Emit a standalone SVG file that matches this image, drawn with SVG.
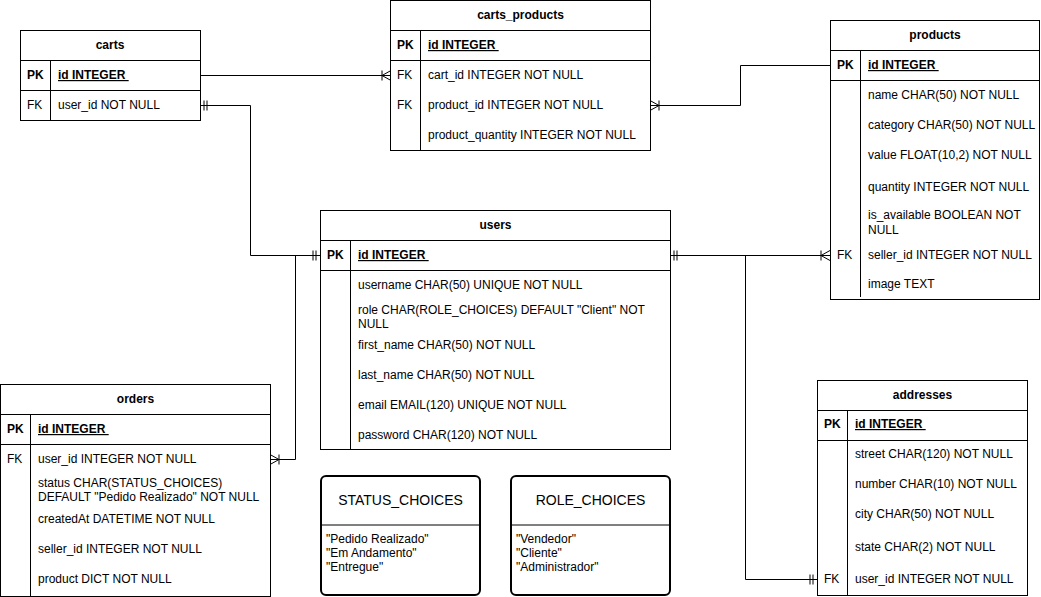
<svg xmlns="http://www.w3.org/2000/svg" width="1041" height="597" viewBox="0 0 1041 597">
<style>
text{font-family:"Liberation Sans",Arial,Helvetica,sans-serif;font-size:12px;fill:#000}
.t{font-weight:bold;text-anchor:middle}
.b{font-weight:bold}
.u{font-weight:bold;text-decoration:underline}
.box{fill:#fff;stroke:#000;stroke-width:1}
.ln{stroke:#000;stroke-width:1;fill:none}
.en{fill:#fff;stroke:#000;stroke-width:2}
.et{font-size:14px;text-anchor:middle}
.c{fill:none;stroke:#000;stroke-width:1}
</style>
<defs>
<marker id="one" markerUnits="userSpaceOnUse" viewBox="-12 -6 14 12" refX="0" refY="0" markerWidth="14" markerHeight="12" orient="auto-start-reverse">
<path d="M-7,-5V5M-4,-5V5" stroke="#000" stroke-width="1" fill="none"/>
</marker>
<marker id="many" markerUnits="userSpaceOnUse" viewBox="-12 -6 14 12" refX="0" refY="0" markerWidth="14" markerHeight="12" orient="auto-start-reverse">
<path d="M0,-5L-9,0L0,5M-9,-5V5" stroke="#000" stroke-width="1" fill="none"/>
</marker>
</defs>
<rect width="1041" height="597" fill="#fff"/>

<g id="connectors">
<path class="c" d="M200,75.5H391" marker-end="url(#many)"/>
<path class="c" d="M200,105.5H250.5V255.5H320" marker-start="url(#one)" marker-end="url(#one)"/>
<path class="c" d="M270,459.5H295.5V255.5H320" marker-start="url(#many)"/>
<path class="c" d="M650,105.5H740.5V65.5H830" marker-start="url(#many)"/>
<path class="c" d="M670,255.5H830" marker-start="url(#one)" marker-end="url(#many)"/>
<path class="c" d="M670,255.5H745.5V579.5H817" marker-end="url(#one)"/>
</g>

<g id="carts">
<rect class="box" x="20.5" y="30.5" width="180" height="90"/>
<path class="ln" d="M20.5,60.5H200.5M20.5,90.5H200.5M50.5,60.5V120.5"/>
<text class="t" x="110" y="49">carts</text>
<text class="b" x="27" y="79">PK</text>
<text class="u" x="58" y="79">id INTEGER&#160;</text>
<text x="27" y="109">FK</text>
<text x="58" y="109">user_id NOT NULL</text>
</g>

<g id="carts_products">
<rect class="box" x="390.5" y="0.5" width="260" height="150"/>
<path class="ln" d="M390.5,30.5H650.5M390.5,60.5H650.5M420.5,30.5V150.5"/>
<text class="t" x="520.5" y="19">carts_products</text>
<text class="b" x="397" y="49">PK</text>
<text class="u" x="428" y="49">id INTEGER&#160;</text>
<text x="397" y="79">FK</text>
<text x="428" y="79">cart_id INTEGER NOT NULL</text>
<text x="397" y="109">FK</text>
<text x="428" y="109">product_id INTEGER NOT NULL</text>
<text x="428" y="139">product_quantity INTEGER NOT NULL</text>
</g>

<g id="products">
<rect class="box" x="830.5" y="20.5" width="209" height="279"/>
<path class="ln" d="M830.5,50.5H1039.5M830.5,80.5H1039.5M860.5,50.5V297"/>
<text class="t" x="935" y="39">products</text>
<text class="b" x="837" y="69">PK</text>
<text class="u" x="868" y="69">id INTEGER&#160;</text>
<text x="868" y="99">name CHAR(50) NOT NULL</text>
<text x="868" y="129">category CHAR(50) NOT NULL</text>
<text x="868" y="159">value FLOAT(10,2) NOT NULL</text>
<text x="868" y="191">quantity INTEGER NOT NULL</text>
<text x="868" y="219">is_available BOOLEAN NOT</text>
<text x="868" y="234">NULL</text>
<text x="837" y="259">FK</text>
<text x="868" y="259">seller_id INTEGER NOT NULL</text>
<text x="868" y="288">image TEXT</text>
</g>

<g id="users">
<rect class="box" x="320.5" y="210.5" width="350" height="239"/>
<path class="ln" d="M320.5,240.5H670.5M320.5,270.5H670.5M350.5,240.5V449.5"/>
<text class="t" x="495.5" y="229">users</text>
<text class="b" x="327" y="259">PK</text>
<text class="u" x="358" y="259">id INTEGER&#160;</text>
<text x="358" y="289">username CHAR(50) UNIQUE NOT NULL</text>
<text x="358" y="314">role CHAR(ROLE_CHOICES) DEFAULT "Client" NOT</text>
<text x="358" y="328">NULL</text>
<text x="358" y="349">first_name CHAR(50) NOT NULL</text>
<text x="358" y="379">last_name CHAR(50) NOT NULL</text>
<text x="358" y="409">email EMAIL(120) UNIQUE NOT NULL</text>
<text x="358" y="439">password CHAR(120) NOT NULL</text>
</g>

<g id="orders">
<rect class="box" x="0.5" y="384.5" width="270" height="212"/>
<path class="ln" d="M0.5,414.5H270.5M0.5,444.5H270.5M30.5,414.5V596.5"/>
<text class="t" x="135.5" y="403">orders</text>
<text class="b" x="7" y="433">PK</text>
<text class="u" x="38" y="433">id INTEGER&#160;</text>
<text x="7" y="463">FK</text>
<text x="38" y="463">user_id INTEGER NOT NULL</text>
<text x="38" y="487">status CHAR(STATUS_CHOICES)</text>
<text x="38" y="501">DEFAULT "Pedido Realizado" NOT NULL</text>
<text x="38" y="523">createdAt DATETIME NOT NULL</text>
<text x="38" y="553">seller_id INTEGER NOT NULL</text>
<text x="38" y="583">product DICT NOT NULL</text>
</g>

<g id="addresses">
<rect class="box" x="817.5" y="380.5" width="210" height="215"/>
<path class="ln" d="M817.5,410.5H1027.5M817.5,440.5H1027.5M847.5,410.5V595.5"/>
<text class="t" x="922.5" y="399">addresses</text>
<text class="b" x="824" y="428">PK</text>
<text class="u" x="855" y="428">id INTEGER&#160;</text>
<text x="855" y="458">street CHAR(120) NOT NULL</text>
<text x="855" y="488">number CHAR(10) NOT NULL</text>
<text x="855" y="518">city CHAR(50) NOT NULL</text>
<text x="855" y="551">state CHAR(2) NOT NULL</text>
<text x="824" y="583">FK</text>
<text x="855" y="583">user_id INTEGER NOT NULL</text>
</g>

<g id="status_choices">
<rect class="en" x="321" y="476" width="159" height="119" rx="5"/>
<path class="ln" d="M321,525H480" stroke-width="1.5"/>
<text class="et" x="400.5" y="505">STATUS_CHOICES</text>
<text x="326" y="543">"Pedido Realizado"</text>
<text x="326" y="557">"Em Andamento"</text>
<text x="326" y="571">"Entregue"</text>
</g>

<g id="role_choices">
<rect class="en" x="511" y="476" width="159" height="119" rx="5"/>
<path class="ln" d="M511,525H670" stroke-width="1.5"/>
<text class="et" x="590.5" y="505">ROLE_CHOICES</text>
<text x="516" y="543">"Vendedor"</text>
<text x="516" y="557">"Cliente"</text>
<text x="516" y="571">"Administrador"</text>
</g>
</svg>
